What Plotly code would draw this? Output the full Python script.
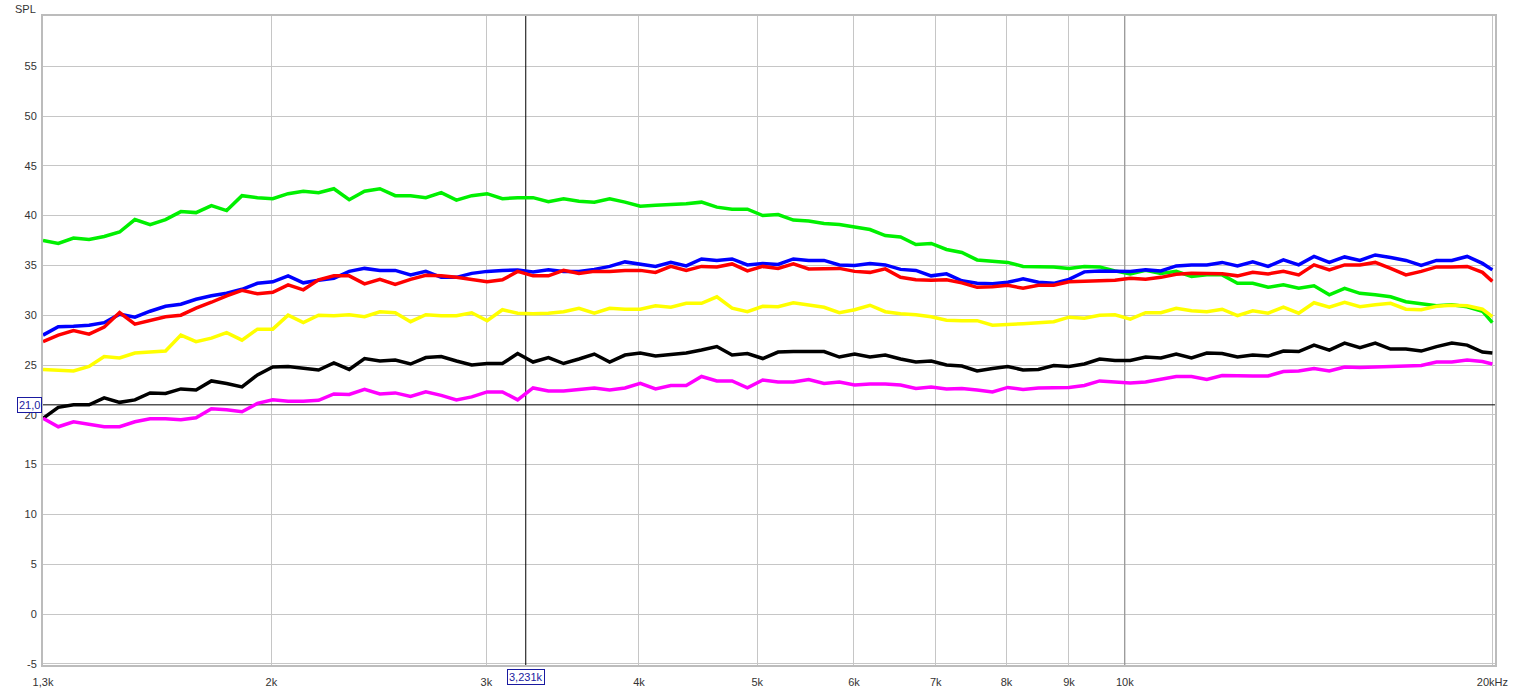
import math
import plotly.graph_objects as go

# Frequency grid (Hz), 1/24 octave from 1.3 kHz to 20 kHz
freq_hz = [1300, 1338, 1377, 1418, 1459, 1502, 1546, 1591, 1638, 1686,
           1735, 1786, 1838, 1892, 1948, 2005, 2064, 2124, 2186, 2250,
           2316, 2384, 2454, 2526, 2600, 2676, 2755, 2835, 2918, 3004,
           3092, 3182, 3276, 3372, 3470, 3572, 3677, 3785, 3896, 4010,
           4127, 4248, 4373, 4501, 4633, 4768, 4908, 5052, 5200, 5352,
           5509, 5671, 5837, 6008, 6184, 6365, 6551, 6743, 6941, 7144,
           7354, 7569, 7791, 8019, 8254, 8496, 8745, 9001, 9265, 9536,
           9816, 10103, 10400, 10704, 11018, 11340, 11673, 12015, 12367, 12729,
           13102, 13486, 13881, 14288, 14706, 15137, 15581, 16037, 16507, 16991,
           17489, 18001, 18528, 19071, 19630, 20000]

green_db = [37.5, 37.2, 37.75, 37.6, 37.9, 38.35, 39.6, 39.1, 39.6, 40.4, 40.3, 41.0, 40.5, 42.0, 41.8, 41.7,
            42.2,
            42.45, 42.3, 42.7, 41.6, 42.45, 42.7, 42.0, 42.0, 41.8, 42.3, 41.55, 42.0, 42.2, 41.7, 41.8,
            41.8, 41.4, 41.7, 41.45, 41.35, 41.7, 41.35, 40.95, 41.05, 41.1, 41.2, 41.35, 40.85, 40.65, 40.65,
            40.0,
            40.1, 39.55, 39.45, 39.2, 39.1, 38.85, 38.6, 38.0, 37.85, 37.1, 37.2, 36.6, 36.3, 35.55, 35.4,
            35.3,
            34.9, 34.85, 34.85, 34.7, 34.9, 34.85, 34.45, 34.15, 34.5, 34.2, 34.4, 33.9, 34.05, 34.05, 33.2,
            33.2, 32.8, 33.05, 32.7, 32.95, 32.05, 32.7, 32.2, 32.05, 31.85, 31.35, 31.15, 30.95, 31.05, 30.85, 30.4, 29.25]

blue_db = [28.0, 28.85, 28.9, 29.0, 29.25, 30.1, 29.8, 30.4, 30.9, 31.1, 31.6, 31.95, 32.2, 32.6, 33.2, 33.35,
           33.95,
           33.25, 33.5, 33.7, 34.4, 34.7, 34.5, 34.5, 34.05, 34.4, 33.8, 33.8, 34.2, 34.4, 34.5, 34.55,
           34.35, 34.55, 34.4, 34.4, 34.6, 34.9, 35.35, 35.1, 34.9, 35.3, 34.95, 35.65, 35.5, 35.65, 35.05,
           35.2,
           35.1, 35.65, 35.5, 35.5, 35.05, 35.0, 35.2, 35.05, 34.6, 34.5, 33.95, 34.15, 33.45, 33.2, 33.15,
           33.3,
           33.65, 33.3, 33.2, 33.6, 34.35, 34.45, 34.45, 34.4, 34.55, 34.45, 34.95, 35.05, 35.05, 35.3, 34.95,
           35.35, 34.9, 35.55, 35.05, 35.9, 35.3, 35.85, 35.5, 36.05, 35.8, 35.5, 35.0, 35.5, 35.5, 35.9, 35.2, 34.55]

red_db = [27.35, 28.0, 28.45, 28.1, 28.8, 30.27, 29.1, 29.45, 29.85, 30.0, 30.7, 31.3, 31.95, 32.5, 32.15, 32.3,
          33.05,
          32.55, 33.55, 33.95, 33.95, 33.15, 33.6, 33.1, 33.6, 34.0, 33.95, 33.8, 33.6, 33.35, 33.55, 34.4,
          33.95, 33.95, 34.5, 34.2, 34.4, 34.4, 34.5, 34.5, 34.3, 34.9, 34.5, 34.9, 34.85, 35.15, 34.45,
          34.9,
          34.7, 35.15, 34.65, 34.65, 34.7, 34.4, 34.3, 34.65, 33.8, 33.55, 33.5, 33.55, 33.25, 32.8, 32.85,
          33.0,
          32.7, 33.0, 33.0, 33.35, 33.4, 33.4, 33.5, 33.7, 33.6, 33.8, 34.1, 34.2, 34.2, 34.15, 33.95,
          34.3, 34.15, 34.4, 34.05, 35.05, 34.55, 35.05, 35.05, 35.3, 34.7, 34.05, 34.4, 34.85, 34.85, 34.9, 34.3, 33.4]

yellow_db = [24.55, 24.5, 24.4, 24.85, 25.85, 25.7, 26.2, 26.3, 26.4, 28.0, 27.35, 27.7, 28.25, 27.5, 28.6, 28.6,
             30.0,
             29.25, 30.0, 29.95, 30.05, 29.85, 30.35, 30.25, 29.35, 30.05, 29.95, 29.95, 30.25, 29.45, 30.55, 30.2,
             30.15, 30.2, 30.35, 30.7, 30.2, 30.7, 30.6, 30.6, 30.95, 30.8, 31.2, 31.2, 31.85, 30.7, 30.35,
             30.9,
             30.85, 31.25, 31.0, 30.8, 30.25, 30.55, 31.0, 30.35, 30.15, 30.05, 29.85, 29.5, 29.45, 29.45, 29.0,
             29.05,
             29.15, 29.25, 29.35, 29.8, 29.7, 30.0, 30.05, 29.6, 30.25, 30.25, 30.7, 30.45, 30.35, 30.6, 29.95,
             30.45, 30.2, 30.8, 30.2, 31.25, 30.8, 31.3, 30.85, 31.05, 31.2, 30.6, 30.55, 30.9, 31.0, 30.95, 30.6, 29.85]

black_db = [19.65, 20.75, 21.0, 21.0, 21.7, 21.25, 21.5, 22.2, 22.15, 22.6, 22.5, 23.4, 23.15, 22.8, 24.0, 24.8,
            24.85,
            24.65, 24.5, 25.2, 24.55, 25.65, 25.4, 25.5, 25.1, 25.75, 25.85, 25.4, 25.0, 25.15, 25.15, 26.15,
            25.3, 25.75, 25.15, 25.6, 26.1, 25.3, 26.0, 26.2, 25.9, 26.05, 26.2, 26.5, 26.85, 26.0, 26.15,
            25.65,
            26.3, 26.35, 26.35, 26.35, 25.8, 26.1, 25.8, 26.0, 25.6, 25.3, 25.4, 25.0, 24.9, 24.4, 24.65,
            24.85,
            24.5, 24.55, 24.95, 24.85, 25.1, 25.6, 25.45, 25.45, 25.8, 25.7, 26.1, 25.7, 26.2, 26.15, 25.8,
            26.0, 25.9, 26.4, 26.35, 27.0, 26.5, 27.2, 26.75, 27.2, 26.6, 26.6, 26.4, 26.85, 27.2, 27.0, 26.3, 26.2]

magenta_db = [19.65, 18.8, 19.3, 19.05, 18.8, 18.8, 19.3, 19.6, 19.6, 19.5, 19.7, 20.6, 20.5, 20.3, 21.15, 21.5,
              21.35,
              21.35, 21.45, 22.1, 22.05, 22.55, 22.1, 22.2, 21.85, 22.3, 21.95, 21.5, 21.8, 22.3, 22.3, 21.5,
              22.7, 22.4, 22.4, 22.55, 22.7, 22.5, 22.7, 23.15, 22.6, 22.95, 22.95, 23.85, 23.4, 23.4, 22.7,
              23.5,
              23.3, 23.3, 23.55, 23.15, 23.3, 23.0, 23.1, 23.1, 23.0, 22.65, 22.8, 22.6, 22.65, 22.5, 22.3,
              22.75,
              22.55, 22.7, 22.75, 22.75, 22.95, 23.4, 23.3, 23.2, 23.3, 23.55, 23.85, 23.85, 23.55, 23.95, 23.9,
              23.9, 23.9, 24.35, 24.4, 24.65, 24.4, 24.8, 24.75, 24.8, 24.85, 24.95, 24.95, 25.3, 25.3, 25.5, 25.35, 25.1]

x_tick_vals = [1300, 2000, 3000, 4000, 5000, 6000, 7000, 8000, 9000, 10000, 20000]
x_tick_text = ["1,3k", "2k", "3k", "4k", "5k", "6k", "7k", "8k", "9k", "10k", "20kHz"]
y_tick_vals = [-5, 0, 5, 10, 15, 20, 25, 30, 35, 40, 45, 50, 55]
y_tick_text = ["-5", "0", "5", "10", "15", "20", "25", "30", "35", "40", "45", "50", "55"]

x_min_hz = 1300
x_max_hz = 20100
y_min = -5.12
y_max = 60.04

decade_hz = 10000
cursor_freq = 3231
cursor_level = 21.0
cursor_freq_text = "3,231k"
cursor_level_text = "21,0"

series = [
    ("Green", green_db, "#00f000"),
    ("Blue", blue_db, "#0000ff"),
    ("Red", red_db, "#ff0000"),
    ("Yellow", yellow_db, "#ffff00"),
    ("Black", black_db, "#000000"),
    ("Magenta", magenta_db, "#ff00ff"),
]

fig = go.Figure()

# darker decade gridline
fig.add_trace(go.Scatter(x=[decade_hz, decade_hz], y=[y_min, y_max], mode="lines",
                         line=dict(color="#8a8a8a", width=1), hoverinfo="skip"))
# cursor lines
fig.add_trace(go.Scatter(x=[cursor_freq, cursor_freq], y=[y_min, y_max], mode="lines",
                         line=dict(color="#000000", width=1), hoverinfo="skip"))
fig.add_trace(go.Scatter(x=[x_min_hz, x_max_hz], y=[cursor_level, cursor_level], mode="lines",
                         line=dict(color="#000000", width=1), hoverinfo="skip"))

for name, vals, color in series:
    fig.add_trace(go.Scatter(x=freq_hz, y=vals, mode="lines", name=name,
                             line=dict(color=color, width=3.5)))

font_family = "Liberation Sans, Arial, sans-serif"
tick_font = dict(family=font_family, size=11, color="#333333")

fig.update_layout(
    width=1516, height=691,
    margin=dict(l=43, r=21, t=16, b=26),
    paper_bgcolor="white", plot_bgcolor="white",
    showlegend=False,
    xaxis=dict(type="log", range=[math.log10(x_min_hz), math.log10(x_max_hz)],
               tickvals=x_tick_vals, ticktext=x_tick_text, tickfont=tick_font,
               showgrid=True, gridcolor="#c6c6c6", gridwidth=1, zeroline=False,
               showline=True, mirror=True, linecolor="#bcbcbc", linewidth=2,
               ticks="outside", ticklen=6, tickcolor="rgba(0,0,0,0)", automargin=False),
    yaxis=dict(range=[y_min, y_max], tickvals=y_tick_vals, ticktext=y_tick_text,
               tickfont=tick_font,
               showgrid=True, gridcolor="#c6c6c6", gridwidth=1, zeroline=False,
               showline=True, mirror=True, linecolor="#bcbcbc", linewidth=2,
               ticks="outside", ticklen=2, tickcolor="rgba(0,0,0,0)", automargin=False),
    annotations=[
        dict(text="SPL", xref="paper", yref="paper", x=0, y=1, xanchor="right", yanchor="bottom",
             xshift=-5, yshift=-1, showarrow=False,
             font=dict(family=font_family, size=11, color="#333333")),
        dict(text=cursor_freq_text, xref="x", yref="paper", x=math.log10(cursor_freq), y=0,
             xanchor="center", yanchor="top", yshift=-4, showarrow=False,
             font=dict(family=font_family, size=11, color="#1a1aa0"),
             bordercolor="#1a1aa0", borderwidth=1, borderpad=1, bgcolor="white"),
        dict(text=cursor_level_text, xref="paper", yref="y", x=0, y=cursor_level,
             xanchor="right", yanchor="middle", xshift=-1, showarrow=False,
             font=dict(family=font_family, size=11, color="#1a1aa0"),
             bordercolor="#1a1aa0", borderwidth=1, borderpad=1, bgcolor="white"),
    ],
)

fig.write_html("out.html", config={"displayModeBar": False},
               post_script="document.body.style.margin='0';")
